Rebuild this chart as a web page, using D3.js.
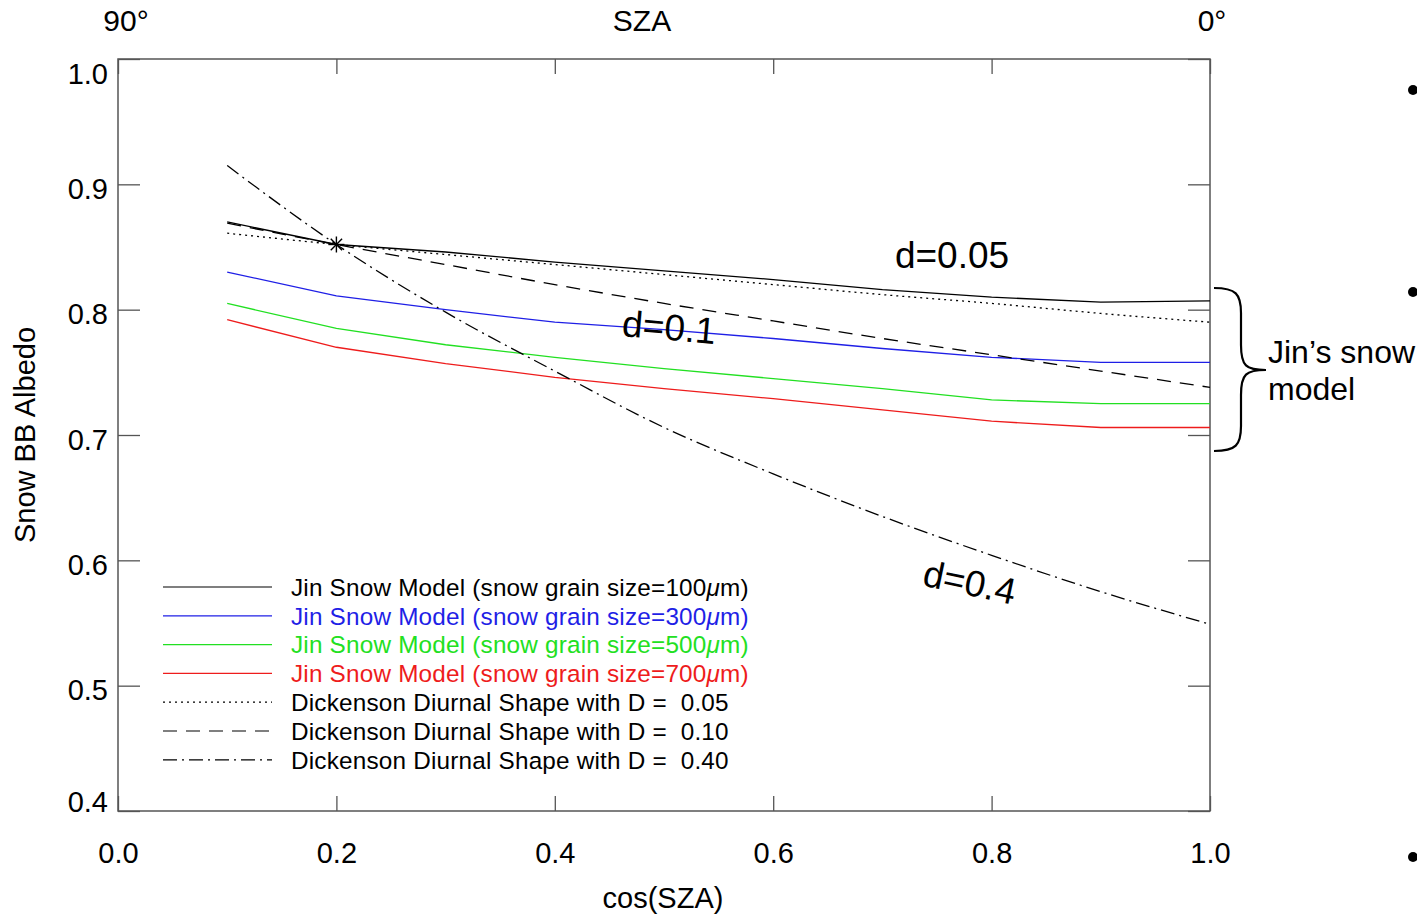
<!DOCTYPE html>
<html>
<head>
<meta charset="utf-8">
<script src="https://cdn.jsdelivr.net/npm/d3@7"></script>
<style>
  body { margin: 0; background: #fff; }
  svg { font-family: "Liberation Sans", Arial, Helvetica, sans-serif; }
  text { white-space: pre; }
</style>
</head>
<body>
<div id="chart"></div>
<script>
// cos(SZA) sample points
const mu = [0.1, 0.2, 0.3, 0.4, 0.5, 0.6, 0.7, 0.8, 0.9, 1.0];

// Jin snow model albedo
const jin100 = [0.870, 0.852, 0.846, 0.838, 0.831, 0.824, 0.816, 0.810, 0.806, 0.807];
const jin300 = [0.830, 0.811, 0.800, 0.790, 0.784, 0.777, 0.769, 0.762, 0.758, 0.758];
const jin500 = [0.805, 0.785, 0.772, 0.762, 0.753, 0.745, 0.737, 0.728, 0.725, 0.725];
const jin700 = [0.792, 0.770, 0.757, 0.746, 0.737, 0.729, 0.720, 0.711, 0.706, 0.706];

// Dickenson diurnal shape curves
const dick005 = [0.861, 0.852, 0.844, 0.836, 0.828, 0.820, 0.812, 0.805, 0.797, 0.790];
const dick010 = [0.869, 0.852, 0.836, 0.820, 0.805, 0.791, 0.777, 0.764, 0.751, 0.738];
const dick040 = [0.915, 0.852, 0.798, 0.751, 0.706, 0.669, 0.635, 0.604, 0.575, 0.549];

// legend labels: [before mu, after mu] for Jin, plain text for Dickenson
const legendLabels = [
  ["Jin Snow Model (snow grain size=100", "m)"],
  ["Jin Snow Model (snow grain size=300", "m)"],
  ["Jin Snow Model (snow grain size=500", "m)"],
  ["Jin Snow Model (snow grain size=700", "m)"],
  ["Dickenson Diurnal Shape with D =  0.05"],
  ["Dickenson Diurnal Shape with D =  0.10"],
  ["Dickenson Diurnal Shape with D =  0.40"]
];

const xTicks = [0.0, 0.2, 0.4, 0.6, 0.8, 1.0];
const yTicks = [0.4, 0.5, 0.6, 0.7, 0.8, 0.9, 1.0];
const starPoint = { x: 0.2, y: 0.852 };

const series = [
  { values: jin100, color: "#000", dash: null, curve: d3.curveLinear },
  { values: jin300, color: "#1f1fe6", dash: null, curve: d3.curveLinear },
  { values: jin500, color: "#22e022", dash: null, curve: d3.curveLinear },
  { values: jin700, color: "#ee1c1c", dash: null, curve: d3.curveLinear },
  { values: dick005, color: "#000", dash: "2,4", curve: d3.curveMonotoneX },
  { values: dick010, color: "#000", dash: "14,9", curve: d3.curveMonotoneX },
  { values: dick040, color: "#000", dash: "14,5,2,5", curve: d3.curveMonotoneX }
];

const width = 1417, height = 914;
const margin = { left: 118, top: 59, right: 207, bottom: 103 };

const svg = d3.select("#chart").append("svg")
  .attr("width", width)
  .attr("height", height);

const x = d3.scaleLinear().domain([0, 1]).range([margin.left, width - margin.right]);
const y = d3.scaleLinear().domain([0.4, 1.0]).range([height - margin.bottom, margin.top]);

const frameColor = "#555";

// frame
svg.append("rect")
  .attr("x", x(0)).attr("y", y(1))
  .attr("width", x(1) - x(0)).attr("height", y(0.4) - y(1))
  .attr("fill", "none").attr("stroke", frameColor).attr("stroke-width", 1.5);

// axes (ticks point inward)
const gBottom = svg.append("g").attr("transform", `translate(0,${y(0.4)})`)
  .call(d3.axisBottom(x).tickValues(xTicks).tickSizeInner(-15).tickSizeOuter(0).tickPadding(0).tickFormat(d3.format(".1f")));
const gTop = svg.append("g").attr("transform", `translate(0,${y(1)})`)
  .call(d3.axisTop(x).tickValues(xTicks).tickSizeInner(-15).tickSizeOuter(0).tickFormat(""));
const gLeft = svg.append("g").attr("transform", `translate(${x(0)},0)`)
  .call(d3.axisLeft(y).tickValues(yTicks).tickSizeInner(-22).tickSizeOuter(0).tickPadding(0).tickFormat(d3.format(".1f")));
const gRight = svg.append("g").attr("transform", `translate(${x(1)},0)`)
  .call(d3.axisRight(y).tickValues(yTicks).tickSizeInner(-22).tickSizeOuter(0).tickFormat(""));

[gBottom, gTop, gLeft, gRight].forEach(g => {
  g.select(".domain").remove();
  g.selectAll(".tick line").attr("stroke", frameColor).attr("stroke-width", 1.3);
});
gBottom.selectAll(".tick text")
  .attr("font-size", 29).attr("fill", "#000").attr("dy", 0)
  .attr("y", 52);
// end labels sit inside the frame, the others just below their tick
gLeft.selectAll(".tick text")
  .attr("font-size", 29).attr("fill", "#000")
  .attr("x", -10)
  .attr("y", d => d === 1.0 ? 14 : d === 0.4 ? -10 : 4)
  .attr("dy", "0.35em");

// top SZA labels
svg.append("text").attr("x", 126).attr("y", 31).attr("text-anchor", "middle")
  .attr("font-size", 30).text("90\u00b0");
svg.append("text").attr("x", 642).attr("y", 31).attr("text-anchor", "middle")
  .attr("font-size", 30).text("SZA");
svg.append("text").attr("x", 1212).attr("y", 31).attr("text-anchor", "middle")
  .attr("font-size", 30).text("0\u00b0");

// axis titles
svg.append("text").attr("x", 663).attr("y", 908).attr("text-anchor", "middle")
  .attr("font-size", 29).text("cos(SZA)");
svg.append("text")
  .attr("transform", `translate(35,435) rotate(-90)`)
  .attr("text-anchor", "middle").attr("font-size", 29).text("Snow BB Albedo");

// lines
const line = d3.line().x((d, i) => x(mu[i])).y(d => y(d));
series.forEach(s => {
  svg.append("path")
    .datum(s.values)
    .attr("fill", "none")
    .attr("stroke", s.color)
    .attr("stroke-width", 1.3)
    .attr("stroke-dasharray", s.dash)
    .attr("d", line.curve(s.curve));
});

// asterisk at the crossing point
const sx = x(starPoint.x), sy = y(starPoint.y), r = 8;
const star = svg.append("g").attr("stroke", "#000").attr("stroke-width", 1.4);
[0, 45, 90, 135].forEach(a => {
  const rad = a * Math.PI / 180;
  star.append("line")
    .attr("x1", sx - r * Math.cos(rad)).attr("y1", sy - r * Math.sin(rad))
    .attr("x2", sx + r * Math.cos(rad)).attr("y2", sy + r * Math.sin(rad));
});

// curve annotations
svg.append("text").attr("x", 952).attr("y", 268).attr("text-anchor", "middle")
  .attr("font-size", 37).text("d=0.05");
svg.append("text").attr("transform", "translate(668,340) rotate(5)")
  .attr("text-anchor", "middle").attr("font-size", 37).text("d=0.1");
svg.append("text").attr("transform", "translate(967,595) rotate(12)")
  .attr("text-anchor", "middle").attr("font-size", 37).text("d=0.4");

// legend
const legend = svg.append("g");
legendLabels.forEach((lab, i) => {
  const ly = 587 + i * 28.8;
  legend.append("line")
    .attr("x1", 163).attr("x2", 272).attr("y1", ly).attr("y2", ly)
    .attr("stroke", series[i].color).attr("stroke-width", 1.2)
    .attr("stroke-dasharray", series[i].dash);
  const t = legend.append("text")
    .attr("x", 291).attr("y", ly).attr("dy", "0.36em")
    .attr("font-size", 24.3).attr("letter-spacing", 0.2)
    .attr("fill", series[i].color);
  t.append("tspan").text(lab[0]);
  if (lab.length > 1) {
    t.append("tspan").attr("font-style", "italic").text("\u03bc");
    t.append("tspan").text(lab[1]);
  }
});

// brace for Jin's snow model
const bx = 1214, by0 = 288, by1 = 451, bmid = 370, bw = 52;
svg.append("path")
  .attr("fill", "none").attr("stroke", "#000").attr("stroke-width", 2.2)
  .attr("d", `M${bx},${by0} C${bx + 22},${by0} ${bx + 27},${by0 + 6} ${bx + 27},${by0 + 25}
    L${bx + 27},${bmid - 25} C${bx + 27},${bmid - 4} ${bx + 32},${bmid} ${bx + bw},${bmid}
    C${bx + 32},${bmid} ${bx + 27},${bmid + 4} ${bx + 27},${bmid + 25}
    L${bx + 27},${by1 - 25} C${bx + 27},${by1 - 6} ${bx + 22},${by1} ${bx},${by1}`);
svg.append("text").attr("x", 1268).attr("y", 363).attr("font-size", 32).text("Jin\u2019s snow");
svg.append("text").attr("x", 1268).attr("y", 400).attr("font-size", 32).text("model");

// slide bullets on the right edge
[90, 292, 857].forEach(by => {
  svg.append("circle").attr("cx", 1413).attr("cy", by).attr("r", 5).attr("fill", "#000");
});
</script>
</body>
</html>
